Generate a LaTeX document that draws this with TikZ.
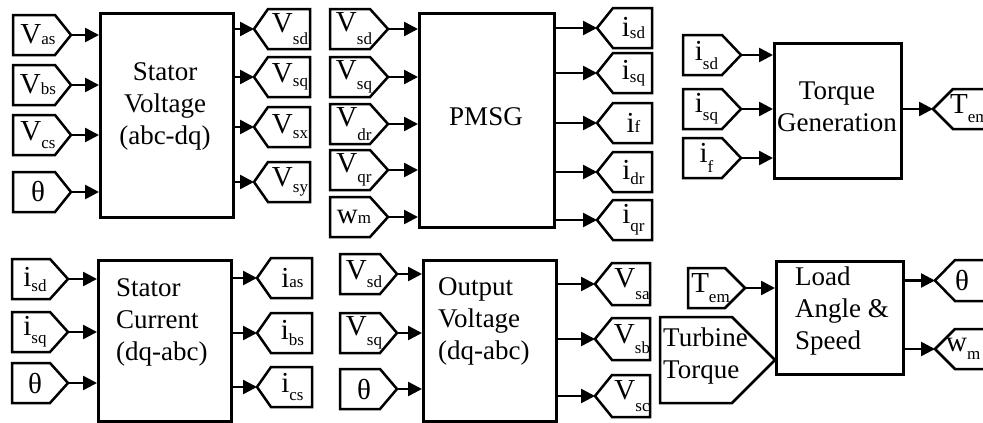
\documentclass[tikz,border=0pt]{standalone}
\usepackage{fontspec}
\setmainfont{Liberation Serif}
\usetikzlibrary{arrows.meta}
\tikzset{
  tagline/.style={line width=2.5pt, line join=miter},
  block/.style={draw, line width=2.5pt, anchor=north west, inner sep=0pt},
  conn/.style={line width=2.5pt, -{Triangle[length=14pt,width=14pt]}},
  lbl/.style={inner sep=0pt, font=\fontsize{29}{29}\selectfont},
  btext/.style={inner sep=0pt, font=\fontsize{27}{32}\selectfont},
}
\newcommand\lb[3]{#1\raisebox{-#3pt}{\fontsize{17}{17}\selectfont #2}}
% input tag: name, left, right, tip, top, bottom, label
\newcommand\intag[7]{%
  \draw[tagline] (#2,#5) -- (#3,#5) -- (#4,{(#5+#6)/2}) -- (#3,#6) -- (#2,#6) -- cycle;
  \coordinate (#1) at (#4,{(#5+#6)/2});
  \node[lbl] (#1l) at ({(#2+#3)/2+4},{(#5+#6)/2}) {#7};}
% output tag: name, tip, r0, r1, top, bottom, label
\newcommand\outtag[7]{%
  \draw[tagline] (#2,{(#5+#6)/2}) -- (#3,#5) -- (#4,#5) -- (#4,#6) -- (#3,#6) -- cycle;
  \coordinate (#1) at (#2,{(#5+#6)/2});
  \node[lbl] (#1l) at ({(#3+#4)/2+1},{(#5+#6)/2}) {#7};}
% output tag cut by the picture edge: name, tip, r0, top, bottom, label x, label
\newcommand\outtagc[7]{%
  \draw[tagline] (1000,#4) -- (#3,#4) -- (#2,{(#4+#5)/2}) -- (#3,#5) -- (1000,#5);
  \coordinate (#1) at (#2,{(#4+#5)/2});
  \node[lbl, anchor=west] (#1l) at (#6,{(#4+#5)/2}) {#7};}
\begin{document}
\begin{tikzpicture}[x=1pt,y=-1pt]
\fill[white] (0,0) rectangle (983,423);
\useasboundingbox (0,0) rectangle (983,423);
\clip (0,0) rectangle (983,423);

% ---------- Stator Voltage (abc-dq)
\node[block, minimum width=133pt, minimum height=204pt] (sv) at (99,12) {};
\node[btext, align=center] (svt) at (165,106) {Stator\\Voltage\\(abc-dq)};
\intag{sva}{13}{55}{71}{15}{55}{\lb{V}{as}{1}}
\intag{svb}{13}{55}{71}{65}{105}{\lb{V}{bs}{1}}
\intag{svc}{13}{55}{71}{115}{155}{\lb{V}{cs}{8}}
\intag{svd}{13}{55}{71}{172}{212}{θ}
\foreach \n in {sva,svb,svc,svd} \draw[conn] (\n) -- (\n -| sv.west);
\outtag{svo1}{254}{268}{310}{9}{49}{\lb{V}{sd}{12}}
\outtag{svo2}{254}{268}{310}{57}{97}{\lb{V}{sq}{4}}
\outtag{svo3}{254}{268}{310}{107}{147}{\lb{V}{sx}{5}}
\outtag{svo4}{254}{268}{310}{162}{202}{\lb{V}{sy}{6}}
\foreach \n in {svo1,svo2,svo3,svo4} \draw[conn] (sv.east |- \n) -- (\n);

% ---------- PMSG
\node[block, minimum width=135pt, minimum height=214pt] (pm) at (418,12) {};
\node[btext] (pmt) at (486,117) {PMSG};
\intag{pa}{330}{370}{388}{9}{49}{\lb{V}{sd}{13}}
\intag{pb}{330}{370}{388}{57}{97}{\lb{V}{sq}{10}}
\intag{pc}{330}{370}{388}{104}{144}{\lb{V}{dr}{14}}
\intag{pd}{330}{370}{388}{150}{190}{\lb{V}{qr}{10}}
\intag{pe}{330}{370}{388}{197}{237}{\lb{w}{m}{0}}
\foreach \n in {pa,pb,pc,pd,pe} \draw[conn] (\n) -- (\n -| pm.west);
\outtag{po1}{597}{613}{652}{8}{48}{\lb{i}{sd}{2}}
\outtag{po2}{597}{613}{652}{53}{93}{\lb{i}{sq}{3}}
\outtag{po3}{597}{613}{652}{103}{143}{\lb{i}{f}{0}}
\outtag{po4}{597}{613}{652}{152}{192}{\lb{i}{dr}{5}}
\outtag{po5}{597}{613}{652}{200}{240}{\lb{i}{qr}{8}}
\foreach \n in {po1,po2,po3,po4,po5} \draw[conn] (pm.east |- \n) -- (\n);

% ---------- Torque Generation
\node[block, minimum width=127pt, minimum height=135pt] (tg) at (773,42) {};
\node[btext, align=center] (tgt) at (837,107) {Torque\\Generation};
\intag{ta}{683}{722}{741}{35}{75}{\lb{i}{sd}{9}}
\intag{tb}{683}{722}{741}{89}{129}{\lb{i}{sq}{8}}
\intag{tc}{683}{722}{741}{138}{178}{\lb{i}{f}{10}}
\foreach \n in {ta,tb,tc} \draw[conn] (\n) -- (\n -| tg.west);
\outtagc{to}{933}{953}{89}{129}{950}{\lb{T}{em}{9}}
\draw[conn] (tg.east |- to) -- (to);

% ---------- Stator Current (dq-abc)
\node[block, minimum width=133pt, minimum height=161pt] (sc) at (97,259) {};
\node[btext, align=left, anchor=west] (sct) at (116,322) {Stator\\Current\\(dq-abc)};
\intag{sca}{12}{50}{68}{259}{299}{\lb{i}{sd}{5}}
\intag{scb}{12}{50}{68}{312}{352}{\lb{i}{sq}{8}}
\intag{scc}{12}{50}{68}{363}{403}{θ}
\foreach \n in {sca,scb,scc} \draw[conn] (\n) -- (\n -| sc.west);
\outtag{sco1}{257}{271}{312}{258}{298}{\lb{i}{as}{0}}
\outtag{sco2}{257}{271}{312}{313}{353}{\lb{i}{bs}{6}}
\outtag{sco3}{257}{271}{312}{367}{407}{\lb{i}{cs}{8}}
\foreach \n in {sco1,sco2,sco3} \draw[conn] (sc.east |- \n) -- (\n);

% ---------- Output Voltage (dq-abc)
\node[block, minimum width=133pt, minimum height=161pt] (ov) at (422,259) {};
\node[btext, align=left, anchor=west] (ovt) at (438,321) {Output\\Voltage\\(dq-abc)};
\intag{ova}{340}{380}{397}{254}{294}{\lb{V}{sd}{8}}
\intag{ovb}{340}{380}{397}{313}{353}{\lb{V}{sq}{10}}
\intag{ovc}{340}{380}{397}{369}{409}{θ}
\foreach \n in {ova,ovb,ovc} \draw[conn] (\n) -- (\n -| ov.west);
\outtag{ovo1}{595}{612}{650}{263}{305}{\lb{V}{sa}{12}}
\outtag{ovo2}{595}{612}{650}{318}{360}{\lb{V}{sb}{10}}
\outtag{ovo3}{595}{612}{650}{375}{417}{\lb{V}{sc}{12}}
\foreach \n in {ovo1,ovo2,ovo3} \draw[conn] (ov.east |- \n) -- (\n);

% ---------- Load Angle & Speed
\node[block, minimum width=127pt, minimum height=113pt] (ls) at (775,260) {};
\node[btext, align=left, anchor=west] (lst) at (795,311) {Load\\Angle \&\\Speed};
\intag{la}{688}{725}{745}{268}{308}{\lb{T}{em}{10}}
\draw[conn] (la) -- (la -| ls.west);
\draw[tagline] (660,317) -- (732,317) -- (ls.west |- 0,360) -- (732,403) -- (660,403) -- cycle;
\node[btext, align=left, anchor=west] (tt) at (663,356) {Turbine\\Torque};
\outtagc{lo1}{935}{955}{260}{301}{955}{θ}
\outtagc{lo2}{935}{955}{329}{369}{946}{\lb{w}{m}{8}}
\foreach \n in {lo1,lo2} \draw[conn] (ls.east |- \n) -- (\n);
\end{tikzpicture}
\end{document}
